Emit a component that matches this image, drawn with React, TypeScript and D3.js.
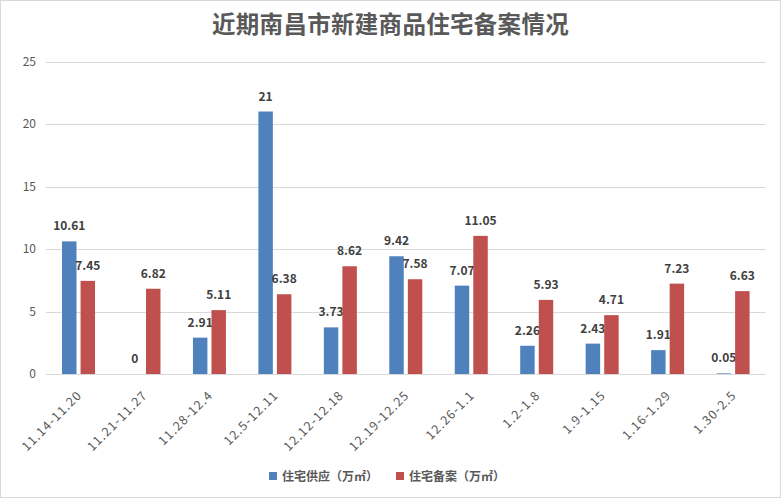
import React from "react";
import * as d3 from "d3";

const categories = ["11.14-11.20","11.21-11.27","11.28-12.4","12.5-12.11","12.12-12.18","12.19-12.25","12.26-1.1","1.2-1.8","1.9-1.15","1.16-1.29","1.30-2.5"];
const supply = [10.61, 0, 2.91, 21, 3.73, 9.42, 7.07, 2.26, 2.43, 1.91, 0.05];
const record = [7.45, 6.82, 5.11, 6.38, 8.62, 7.58, 11.05, 5.93, 4.71, 7.23, 6.63];
const yTicks = [0, 5, 10, 15, 20, 25];
const seriesNames = ["住宅供应（万㎡）", "住宅备案（万㎡）"];
const colors = ["#4F81BD", "#C0504D"];

const W = 781, H = 499;
const FONT = "'Noto Sans CJK SC', 'Noto Sans', sans-serif";

export default function App() {
  const x = d3.scaleBand<string>().domain(categories).range([46, 766]).padding(0);
  const y = d3.scaleLinear().domain([0, 25]).range([374, 61.5]);
  const x1 = d3.scaleBand<string>().domain(["s", "r"]).range([-16.7, 16.3]).paddingInner(0.22);
  const series = [supply, record];
  const keys = ["s", "r"];
  const fmt = (v: number) => String(v);

  return (
    <div style={{ position: "absolute", left: 0, top: 0 }}>
      <svg width={W} height={H} style={{ display: "block", fontFamily: FONT }}>
        <rect x={0.5} y={0.5} width={W - 1} height={H - 2} fill="#fff" stroke="#d9d9d9" />
        <text x={W / 2} y={33} textAnchor="middle" fontSize={23.5} letterSpacing={0.3} fontWeight="bold" fill="#595959">
          近期南昌市新建商品住宅备案情况
        </text>
        {yTicks.map((t) => (
          <g key={t}>
            <line x1={46} x2={766} y1={Math.round(y(t)) + 0.5} y2={Math.round(y(t)) + 0.5} stroke="#d9d9d9" />
            <text x={36} y={y(t)} dy="0.35em" textAnchor="end" fontSize={12} fill="#595959">{t}</text>
          </g>
        ))}
        {categories.map((c, i) => {
          const cx = x(c)! + x.bandwidth() / 2;
          return (
            <g key={c}>
              {series.map((s, j) => {
                const bx = cx + x1(keys[j])!;
                const bw = x1.bandwidth();
                const top = y(s[i]);
                return (
                  <g key={j}>
                    <rect x={bx} y={top} width={bw} height={y(0) - top} fill={colors[j]} />
                    <text x={bx + bw / 2} y={top - 11} textAnchor="middle" fontSize={12} fontWeight="bold" fill="#404040">
                      {fmt(s[i])}
                    </text>
                  </g>
                );
              })}
              <text
                transform={`translate(${cx + 4},${396}) rotate(-45)`}
                textAnchor="end"
                fontSize={12.5}
                letterSpacing={1.1}
                fill="#595959"
              >
                {c}
              </text>
            </g>
          );
        })}
        {(() => {
          const items = [{ x: 269 }, { x: 396 }];
          return items.map((it, j) => (
            <g key={j}>
              <rect x={it.x} y={472} width={8} height={8} fill={colors[j]} />
              <text x={it.x + 13} y={480.5} fontSize={12} fontWeight="bold" fill="#595959">
                {seriesNames[j]}
              </text>
            </g>
          ));
        })()}
      </svg>
    </div>
  );
}
